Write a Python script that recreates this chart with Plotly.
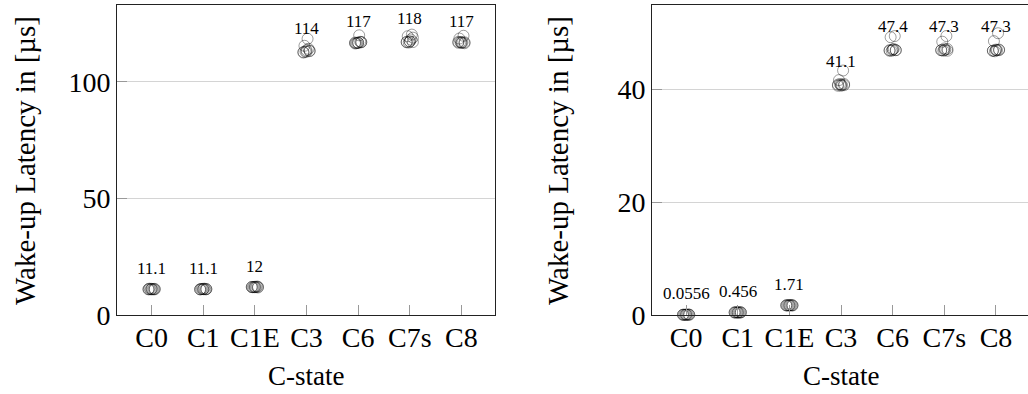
import plotly.graph_objects as go

# C-states on the x axis
states = ["C0", "C1", "C1E", "C3", "C6", "C7s", "C8"]

# Wake-up latency samples per C-state, in microseconds (left panel)
left_C0 = [11.0, 11.1, 11.2, 11.0, 11.1, 11.3, 11.0, 11.1, 11.2, 11.0]
left_C1 = [11.0, 11.1, 11.1, 11.2, 11.0, 11.1, 11.3, 11.0, 11.1, 11.1]
left_C1E = [12.0, 11.9, 12.1, 12.0, 12.2, 11.9, 12.0, 12.0, 12.1, 11.8]
left_C3 = [112.6, 113.0, 113.4, 113.0, 114.2, 115.5, 118.5, 112.8, 113.6, 113.2]
left_C6 = [116.5, 116.8, 117.0, 116.7, 117.2, 116.6, 120.0, 116.9, 116.8, 117.1]
left_C7s = [117.0, 117.3, 117.1, 116.9, 120.3, 119.6, 118.2, 117.2, 117.4, 119.0]
left_C8 = [116.8, 117.0, 116.6, 117.1, 119.8, 118.6, 116.9, 117.2, 116.7, 117.0]
left_means = [11.1, 11.1, 12, 114, 117, 118, 117]

# Wake-up latency samples per C-state, in microseconds (right panel)
right_C0 = [0.04, 0.05, 0.06, 0.05, 0.07, 0.05, 0.06, 0.05, 0.06, 0.06]
right_C1 = [0.44, 0.45, 0.46, 0.47, 0.45, 0.46, 0.45, 0.46, 0.44, 0.48]
right_C1E = [1.70, 1.72, 1.69, 1.71, 1.73, 1.70, 1.72, 1.71, 1.70, 1.72]
right_C3 = [40.6, 40.8, 40.7, 40.9, 43.3, 41.6, 40.7, 40.8, 40.6, 40.9]
right_C6 = [46.8, 47.0, 46.9, 46.8, 49.4, 49.2, 47.1, 46.9, 47.0, 46.9]
right_C7s = [46.9, 46.9, 47.1, 46.8, 49.4, 48.4, 47.0, 46.9, 47.2, 46.8]
right_C8 = [46.8, 46.9, 47.0, 46.7, 49.9, 48.5, 46.9, 46.8, 47.0, 46.9]
right_means = [0.0556, 0.456, 1.71, 41.1, 47.4, 47.3, 47.3]

left_samples = [left_C0, left_C1, left_C1E, left_C3, left_C6, left_C7s, left_C8]
right_samples = [right_C0, right_C1, right_C1E, right_C3, right_C6, right_C7s, right_C8]

FONT = "Liberation Serif"
W, H = 1028, 394

fig = go.Figure()


def spread(n, width=0.06):
    # small horizontal spread so overlapping runs stay visible
    return [width * (((i * 3) % 7) - 3) / 3 for i in range(n)]


for axis_id, samples, means in (("", left_samples, left_means),
                                ("2", right_samples, right_means)):
    xs, ys = [], []
    for idx, vals in enumerate(samples):
        offs = spread(len(vals))
        xs += [idx + o for o in offs]
        ys += vals
    fig.add_trace(go.Scatter(
        x=xs, y=ys, mode="markers", xaxis="x" + axis_id, yaxis="y" + axis_id,
        cliponaxis=False, showlegend=False,
        marker=dict(symbol="circle-open", size=11,
                    color="rgba(0,0,0,0.38)", line=dict(width=1)),
    ))
    for idx, m in enumerate(means):
        fig.add_annotation(
            x=idx, y=m, xref="x" + axis_id, yref="y" + axis_id,
            text=f"{m:.3g}", showarrow=False, yshift=21,
            font=dict(family=FONT, size=17, color="black"),
        )

ydom = [(H - 315) / H, (H - 5) / H]
axis_common = dict(
    showline=True, linecolor="#222", linewidth=1, mirror=True,
    ticks="inside", ticklen=10, tickcolor="#999", tickwidth=1,
    tickfont=dict(family=FONT, size=28, color="black"),
    zeroline=False, automargin=False,
)
x_common = dict(axis_common, showgrid=False, tickmode="array",
                tickvals=list(range(len(states))), ticktext=states,
                ticklabelstandoff=-3)
y_common = dict(axis_common, showgrid=True, gridcolor="#d4d4d4", gridwidth=1)

fig.update_layout(
    template="none",
    width=W, height=H, margin=dict(l=0, r=0, t=0, b=0, autoexpand=False),
    paper_bgcolor="white", plot_bgcolor="white",
    xaxis=dict(x_common, domain=[117 / W, 495 / W], range=[-0.67, 6.65],
               anchor="y"),
    yaxis=dict(y_common, domain=ydom, range=[0, 133], dtick=50, anchor="x"),
    xaxis2=dict(x_common, domain=[652 / W, 1.0], range=[-0.66, 6.62],
                anchor="y2"),
    yaxis2=dict(y_common, domain=ydom, range=[0, 54.9], dtick=20, anchor="x2"),
)

# axis titles
title_font = dict(family=FONT, size=29, color="black")
for xc in ((117 + 495) / 2 / W, (652 + 1030) / 2 / W):
    fig.add_annotation(x=xc, y=(H - 376) / H, xref="paper", yref="paper",
                       text="C-state", showarrow=False,
                       font=dict(family=FONT, size=27, color="black"),
                       xanchor="center", yanchor="middle")
for xc in (25 / W, 558 / W):
    fig.add_annotation(x=xc, y=(H - 161) / H, xref="paper", yref="paper",
                       text="Wake-up Latency in [µs]", showarrow=False,
                       textangle=-90, font=title_font,
                       xanchor="center", yanchor="middle")

fig.write_html("out.html")
